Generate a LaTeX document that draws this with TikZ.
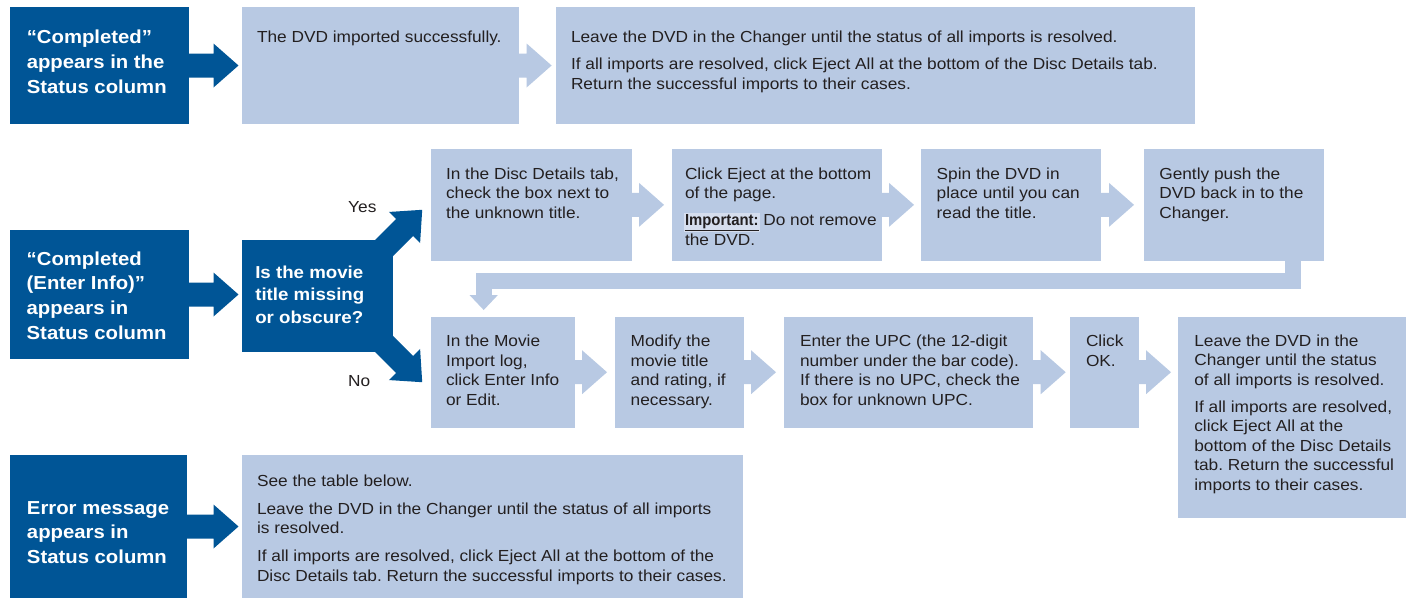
\documentclass[tikz,border=0pt]{standalone}
\usepackage{fontspec}
\setmainfont{Liberation Sans}[FakeStretch=1.08]
\newfontfamily\impfont{Liberation Sans}[FakeStretch=0.93]
\usetikzlibrary{calc}
\frenchspacing
\definecolor{darkblue}{RGB}{0,85,150}
\definecolor{lightblue}{RGB}{184,201,227}
\definecolor{txt}{RGB}{35,31,32}
\definecolor{impbg}{RGB}{214,222,238}
\newcommand\fatarrow[3]{%
  \coordinate (fabase) at ($(#3)!25pt!(#2)$);
  \fill[#1] ($(#2)!12pt!90:(#3)$) -- ($(fabase)!12pt!-90:(#2)$) -- ($(fabase)!22pt!-90:(#2)$) -- (#3)
     -- ($(fabase)!22pt!90:(#2)$) -- ($(fabase)!12pt!90:(#2)$) -- ($(#2)!12pt!-90:(#3)$) -- cycle;}
\newcommand\lines[1]{\begin{tabular}[t]{@{}l@{}}#1\end{tabular}}
\begin{document}
\begin{tikzpicture}[x=1pt,y=-1pt,
  darkbox/.style={fill=darkblue, draw=none, inner sep=0pt, outer sep=0pt, anchor=north west},
  lightbox/.style={fill=lightblue, draw=none, inner sep=0pt, outer sep=0pt, anchor=north west},
  bodytext/.style={anchor=base west, inner sep=0pt, outer sep=0pt, text=txt, font=\fontsize{16}{19.5}\selectfont},
  headtext/.style={anchor=base west, inner sep=0pt, outer sep=0pt, text=white, font=\bfseries\fontsize{18.8}{24.8}\selectfont},
  asktext/.style={headtext, font=\bfseries\fontsize{17.3}{22.5}\selectfont},
  labeltext/.style={anchor=base west, inner sep=0pt, text=txt, font=\fontsize{16}{19.5}\selectfont}]
\useasboundingbox (0,0) rectangle (1406,598);
\fill[white] (0,0) rectangle (1406,598);
% ---------- row 1
\node[darkbox, minimum width=179pt, minimum height=117pt] (d1) at (10,7) {};
\node[lightbox, minimum width=276.6pt, minimum height=117pt] (b2) at (242,7) {};
\node[lightbox, minimum width=639pt, minimum height=117pt] (b3) at (556,7) {};
\node[headtext] (d1t) at ($(d1.north west)+(16.8,36.5)$) {\lines{“Completed”\\appears in the\\Status column}};
\node[bodytext] (b2t) at ($(b2.north west)+(15,35.7)$) {The DVD imported successfully.};
\node[bodytext] (b3t) at ($(b3.north west)+(15,35.7)$) {\lines{Leave the DVD in the Changer until the status of all imports is resolved.\\[7.5pt]
If all imports are resolved, click Eject All at the bottom of the Disc Details tab.\\Return the successful imports to their cases.}};
\coordinate (t1) at ($(b2.west |- d1.east)+(-3.5,0)$);
\fatarrow{darkblue}{d1.east}{t1}
\coordinate (t2) at ($(b2.east)+(33,0)$);
\fatarrow{lightblue}{b2.east}{t2}
% ---------- row 2
\node[darkbox, minimum width=179pt, minimum height=129pt] (d2) at (10,230) {};
\node[darkbox, minimum width=151.3pt, minimum height=112pt] (q) at (242,240) {};
\node[headtext] (d2t) at ($(d2.north west)+(16.7,35)$) {\lines{“Completed\\(Enter Info)”\\appears in\\Status column}};
\node[asktext] (qt) at ($(q.north west)+(13.3,38.3)$) {\lines{Is the movie\\title missing\\or obscure?}};
\coordinate (t3) at ($(q.west |- d2.east)+(-3.5,0)$);
\fatarrow{darkblue}{d2.east}{t3}
\coordinate (ys) at ($(q.north east)+(-23.3,22.1)$);
\coordinate (yt) at ($(q.north east)+(28.9,-30.2)$);
\fatarrow{darkblue}{ys}{yt}
\coordinate (ns) at ($(q.south east)+(-23.3,-22.1)$);
\coordinate (nt) at ($(q.south east)+(28.9,30.2)$);
\fatarrow{darkblue}{ns}{nt}
\node[labeltext] (yes) at (348,212.7) {Yes};
\node[labeltext] (no) at (348,386.7) {No};
% upper chain
\node[lightbox, minimum width=201pt, minimum height=111.7pt] (A) at (431,149) {};
\node[lightbox, minimum width=210pt, minimum height=111.7pt] (B) at (672,149) {};
\node[lightbox, minimum width=180pt, minimum height=111.7pt] (C) at (921,149) {};
\node[lightbox, minimum width=180pt, minimum height=111.7pt] (D) at (1144,149) {};
\node[bodytext] (At) at ($(A.north west)+(15,30.3)$) {\lines{In the Disc Details tab,\\check the box next to\\the unknown title.}};
\node[bodytext] (Bt) at ($(B.north west)+(13,30.3)$) {\lines{Click Eject at the bottom\\of the page.\\[7pt]
{\setlength{\fboxsep}{1.5pt}\hspace*{-1.5pt}\colorbox{impbg}{\impfont\bfseries\underline{Important:}}\hspace*{-1.5pt}} Do not remove\\the DVD.}};
\node[bodytext] (Ct) at ($(C.north west)+(15.7,30.3)$) {\lines{Spin the DVD in\\place until you can\\read the title.}};
\node[bodytext] (Dt) at ($(D.north west)+(15.3,30.3)$) {\lines{Gently push the\\DVD back in to the\\Changer.}};
\coordinate (tA) at ($(A.east)+(32,0)$);
\fatarrow{lightblue}{A.east}{tA}
\coordinate (tB) at ($(B.east)+(32,0)$);
\fatarrow{lightblue}{B.east}{tB}
\coordinate (tC) at ($(C.east)+(33,0)$);
\fatarrow{lightblue}{C.east}{tC}
% lower chain
\node[lightbox, minimum width=144pt, minimum height=111pt] (E) at (431,316.7) {};
\node[lightbox, minimum width=129pt, minimum height=111pt] (F) at (615,316.7) {};
\node[lightbox, minimum width=248.7pt, minimum height=111pt] (G) at (784,316.7) {};
\node[lightbox, minimum width=69pt, minimum height=111pt] (H) at (1070,316.7) {};
\node[lightbox, minimum width=228pt, minimum height=201pt] (I) at (1178,316.7) {};
\node[bodytext] (Et) at ($(E.north west)+(15,30)$) {\lines{In the Movie\\Import log,\\click Enter Info\\or Edit.}};
\node[bodytext] (Ft) at ($(F.north west)+(15.7,30)$) {\lines{Modify the\\movie title\\and rating, if\\necessary.}};
\node[bodytext] (Gt) at ($(G.north west)+(16,30)$) {\lines{Enter the UPC (the 12-digit\\number under the bar code).\\If there is no UPC, check the\\box for unknown UPC.}};
\node[bodytext] (Ht) at ($(H.north west)+(16,30)$) {\lines{Click\\OK.}};
\node[bodytext] (It) at ($(I.north west)+(16.3,29.3)$) {\lines{Leave the DVD in the\\Changer until the status\\of all imports is resolved.\\[7.5pt]
If all imports are resolved,\\click Eject All at the\\bottom of the Disc Details\\tab. Return the successful\\imports to their cases.}};
\coordinate (tE) at ($(E.east)+(32,0)$);
\fatarrow{lightblue}{E.east}{tE}
\coordinate (tF) at ($(F.east)+(32,0)$);
\fatarrow{lightblue}{F.east}{tF}
\coordinate (tG) at ($(G.east)+(33,0)$);
\fatarrow{lightblue}{G.east}{tG}
\coordinate (tH) at ($(H.east)+(32,0)$);
\fatarrow{lightblue}{H.east}{tH}
% return connector D -> E
\coordinate (r1) at ($(D.south east)+(-31.5,0)$);
\coordinate (r2) at ($(E.north west)+(52.7,-36)$);
\coordinate (r3) at ($(E.north west)+(52.7,-21.7)$);
\coordinate (r4) at ($(E.north west)+(52.7,-6.7)$);
\draw[lightblue, line width=16pt, line join=miter] (r1) |- (r2) -- (r3);
\fill[lightblue] ($(r3)+(-14.2,0)$) -- ($(r3)+(14.2,0)$) -- (r4) -- cycle;
% ---------- row 3
\node[darkbox, minimum width=177pt, minimum height=143pt] (d3) at (10,455) {};
\node[lightbox, minimum width=501pt, minimum height=142.5pt] (J) at (242,455) {};
\node[headtext] (d3t) at ($(d3.north west)+(17,59)$) {\lines{Error message\\appears in\\Status column}};
\node[bodytext] (Jt) at ($(J.north west)+(15,31)$) {\lines{See the table below.\\[8.5pt]
Leave the DVD in the Changer until the status of all imports\\is resolved.\\[8.5pt]
If all imports are resolved, click Eject All at the bottom of the\\Disc Details tab. Return the successful imports to their cases.}};
\coordinate (t4) at ($(J.west |- d3.east)+(-3.5,0)$);
\fatarrow{darkblue}{d3.east}{t4}
\end{tikzpicture}
\end{document}
